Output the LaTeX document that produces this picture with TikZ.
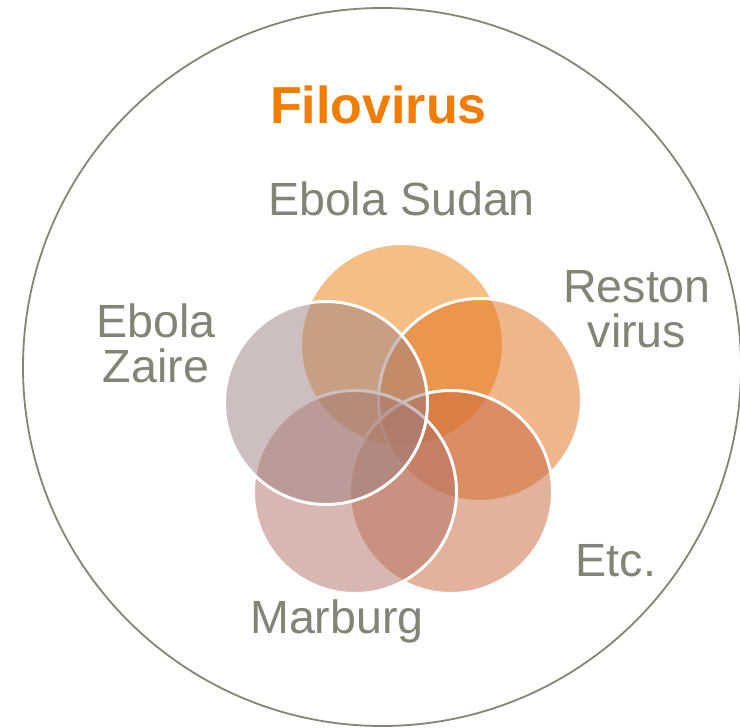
\documentclass[tikz,border=0pt]{standalone}
\usepackage{fontspec}
\setmainfont{Liberation Sans}
\definecolor{txtgray}{HTML}{848476}
\definecolor{ringgray}{HTML}{858576}
\definecolor{filo}{HTML}{F07D00}
\definecolor{cSudan}{HTML}{ED7F0B}
\definecolor{cReston}{HTML}{E16F19}
\definecolor{cEtc}{HTML}{C9673D}
\definecolor{cMarburg}{HTML}{B36F65}
\definecolor{cZaire}{HTML}{9D8181}
\begin{document}
\begin{tikzpicture}[x=1pt,y=-1pt,
  venn/.style={circle, minimum size=203pt, inner sep=0pt, fill=#1, fill opacity=0.5, draw=white, draw opacity=1, line width=3pt},
  lbl/.style={text=txtgray, font=\fontsize{46.6}{45}\selectfont, anchor=base, inner sep=0pt, align=center}
]
\useasboundingbox (0,0) rectangle (740,728);
\fill[white] (0,0) rectangle (740,728);
\node[circle, minimum size=718pt, inner sep=0pt, draw=ringgray, line width=1.8pt] (outer) at (382,367) {};
\node[venn=cSudan] (sudanc) at (402,345) {};
\node[venn=cReston] (restonc) at (480,400) {};
\node[venn=cEtc] (etcc) at (451,492) {};
\node[venn=cMarburg] (marburgc) at (355,492) {};
\node[venn=cZaire] (zairec) at (326,403) {};
\node[anchor=base, inner sep=0pt, text=filo, font=\fontsize{52}{52}\selectfont\bfseries] (title) at (378.5,123) {Filovirus};
\node[lbl] (sudan) at (401.5,215) {Ebola Sudan};
\node[lbl] (reston) at (637,347) {Reston\\virus};
\node[lbl] (zaire) at (156,382) {Ebola\\Zaire};
\node[lbl] (etc) at (616,576) {Etc.};
\node[lbl] (marburg) at (337,633) {Marburg};
\end{tikzpicture}
\end{document}
